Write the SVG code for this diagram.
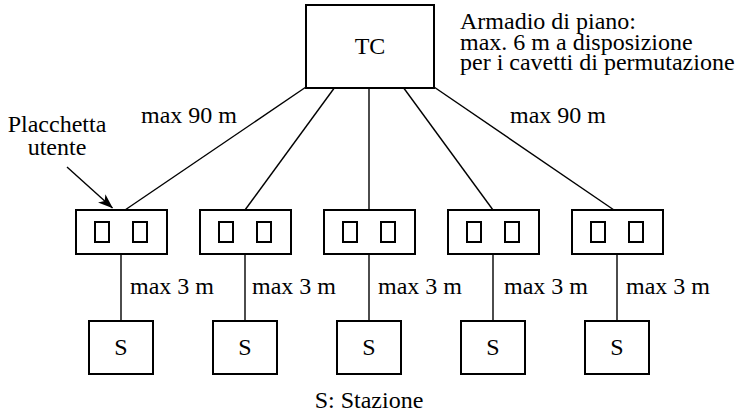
<svg xmlns="http://www.w3.org/2000/svg" width="735" height="413" viewBox="0 0 735 413">
<style>
  text { font-family: "Liberation Serif", "Times New Roman", serif; font-size: 24px; fill: #000; }
  .box { fill: #fff; stroke: #000; stroke-width: 2; }
  .port { fill: #fff; stroke: #000; stroke-width: 2; }
  .wire { fill: none; stroke: #000; stroke-width: 1.4; }
  .mid { text-anchor: middle; }
</style>
<defs>
  <marker id="arrow" markerUnits="userSpaceOnUse" viewBox="0 0 15 12" refX="14.5" refY="6" markerWidth="15" markerHeight="12" orient="auto">
    <path d="M0,0.5 L15,6 L0,11.5 L4,6 z" fill="#000"/>
  </marker>
</defs>
<rect width="735" height="413" fill="#fff"/>

<g id="connectors">
  <line class="wire" x1="306" y1="87" x2="125" y2="210"/>
  <line class="wire" x1="335" y1="87" x2="245" y2="210"/>
  <line class="wire" x1="369" y1="87" x2="369" y2="210"/>
  <line class="wire" x1="403" y1="87" x2="493" y2="210"/>
  <line class="wire" x1="434" y1="87" x2="614" y2="210"/>
  <line class="wire" x1="121" y1="254" x2="121" y2="321"/>
  <line class="wire" x1="245" y1="254" x2="245" y2="321"/>
  <line class="wire" x1="369" y1="254" x2="369" y2="321"/>
  <line class="wire" x1="493" y1="254" x2="493" y2="321"/>
  <line class="wire" x1="617" y1="254" x2="617" y2="321"/>
  <line class="wire" x1="67" y1="167" x2="112.5" y2="208" marker-end="url(#arrow)"/>
</g>

<g id="TC">
  <rect class="box" x="306" y="5" width="128" height="83"/>
  <text class="mid" x="370" y="54">TC</text>
</g>

<g id="note-armadio">
  <text x="460" y="29">Armadio di piano:</text>
  <text x="460" y="49.5">max. 6 m a disposizione</text>
  <text x="460" y="70">per i cavetti di permutazione</text>
</g>

<g id="label-placchetta">
  <text class="mid" x="57" y="131.5">Placchetta</text>
  <text class="mid" x="57" y="155">utente</text>
</g>

<g id="labels-90">
  <text x="141" y="123">max 90 m</text>
  <text x="510" y="123">max 90 m</text>
</g>

<g id="plate1">
  <rect class="box" x="76" y="210" width="91" height="44"/>
  <rect class="port" x="95" y="222" width="14" height="20"/>
  <rect class="port" x="133" y="222" width="14" height="20"/>
</g>
<g id="plate2">
  <rect class="box" x="200" y="210" width="91" height="44"/>
  <rect class="port" x="219" y="222" width="14" height="20"/>
  <rect class="port" x="257" y="222" width="14" height="20"/>
</g>
<g id="plate3">
  <rect class="box" x="324" y="210" width="91" height="44"/>
  <rect class="port" x="343" y="222" width="14" height="20"/>
  <rect class="port" x="381" y="222" width="14" height="20"/>
</g>
<g id="plate4">
  <rect class="box" x="448" y="210" width="91" height="44"/>
  <rect class="port" x="467" y="222" width="14" height="20"/>
  <rect class="port" x="505" y="222" width="14" height="20"/>
</g>
<g id="plate5">
  <rect class="box" x="572" y="210" width="91" height="44"/>
  <rect class="port" x="591" y="222" width="14" height="20"/>
  <rect class="port" x="629" y="222" width="14" height="20"/>
</g>

<g id="labels-3m">
  <text x="130" y="294">max 3 m</text>
  <text x="252" y="294">max 3 m</text>
  <text x="378" y="294">max 3 m</text>
  <text x="504" y="294">max 3 m</text>
  <text x="626" y="294">max 3 m</text>
</g>

<g id="station1">
  <rect class="box" x="89" y="321" width="64" height="53"/>
  <text class="mid" x="121" y="355">S</text>
</g>
<g id="station2">
  <rect class="box" x="213" y="321" width="64" height="53"/>
  <text class="mid" x="245" y="355">S</text>
</g>
<g id="station3">
  <rect class="box" x="337" y="321" width="64" height="53"/>
  <text class="mid" x="369" y="355">S</text>
</g>
<g id="station4">
  <rect class="box" x="461" y="321" width="64" height="53"/>
  <text class="mid" x="493" y="355">S</text>
</g>
<g id="station5">
  <rect class="box" x="585" y="321" width="64" height="53"/>
  <text class="mid" x="617" y="355">S</text>
</g>

<g id="legend">
  <text class="mid" x="369" y="408">S: Stazione</text>
</g>
</svg>
